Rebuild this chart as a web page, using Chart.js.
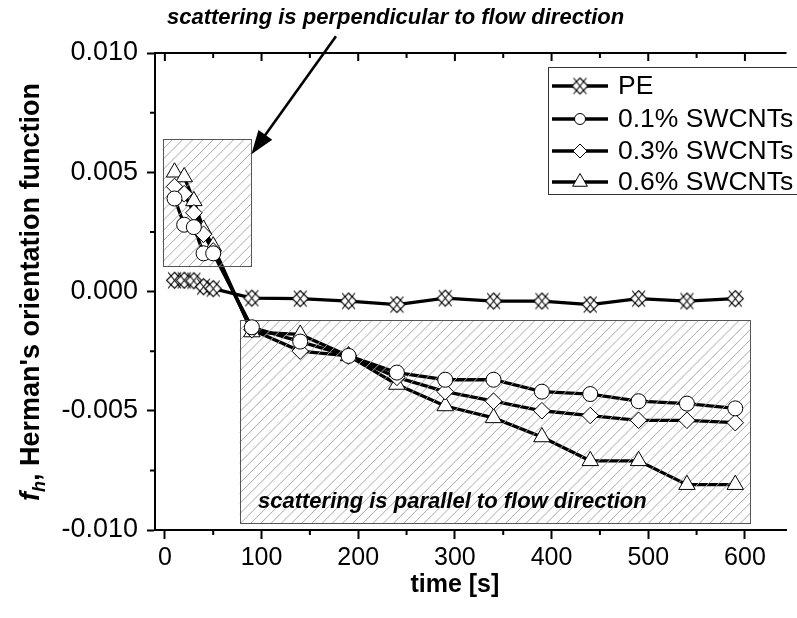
<!DOCTYPE html>
<html><head><meta charset="utf-8">
<script src="https://cdn.jsdelivr.net/npm/chart.js@4"></script>
<style>html,body{margin:0;padding:0;background:#fff;} canvas{display:block}</style>
</head><body>
<canvas id="c" width="797" height="618"></canvas>
<script>
// ---- data ----
const times = [10,20,30,40,50,90,140,190,240,290,340,390,440,490,540,590];
const seriesNames = ['PE','0.1% SWCNTs','0.3% SWCNTs','0.6% SWCNTs'];
const pe      = [0.00047,0.00047,0.00045,0.00020,0.00012,-0.00028,-0.00030,-0.00040,-0.00055,-0.00028,-0.00040,-0.00040,-0.00055,-0.00030,-0.00040,-0.00030];
const swcnt01 = [0.0039,0.0028,0.0027,0.0016,0.0016,-0.0015,-0.0021,-0.0027,-0.0034,-0.0037,-0.0037,-0.0042,-0.0043,-0.0046,-0.0047,-0.0049];
const swcnt03 = [0.0044,0.0041,0.0033,0.0024,0.0017,-0.0016,-0.0025,-0.0027,-0.0036,-0.0042,-0.0046,-0.0050,-0.0052,-0.0054,-0.0054,-0.0055];
const swcnt06 = [0.0050,0.0048,0.0038,0.0026,0.0019,-0.0017,-0.0018,-0.0027,-0.0039,-0.0048,-0.0053,-0.0061,-0.0071,-0.0071,-0.0081,-0.0081];
const xTickValues = [0,100,200,300,400,500,600];
const xMinorTicks = [50,150,250,350,450,550];
const yTickValues = [-0.010,-0.005,0.000,0.005,0.010];
const yMinorTicks = [-0.0075,-0.0025,0.0025,0.0075];
const xTitle = 'time [s]';
const yTitleParts = ['f','h',", Herman's orientation function"];
const noteTop = 'scattering is perpendicular to flow direction';
const noteBox = 'scattering is parallel to flow direction';

const FONT = '"Liberation Sans", Arial, sans-serif';

function peMarker(r){
  const c = document.createElement('canvas');
  c.width = c.height = 2*r+3;
  const g = c.getContext('2d'); const m = c.width/2;
  g.lineWidth = 1.1; g.strokeStyle = '#000'; g.fillStyle = '#fff';
  g.beginPath(); g.moveTo(m,m-r); g.lineTo(m+r,m); g.lineTo(m,m+r); g.lineTo(m-r,m); g.closePath();
  g.fill(); g.stroke();
  g.beginPath(); g.moveTo(m-r*0.8,m-r); g.lineTo(m+r*0.8,m+r); g.moveTo(m+r*0.8,m-r); g.lineTo(m-r*0.8,m+r); g.stroke();
  return c;
}
const peBig = peMarker(8), peSmall = peMarker(8);

const allValues = [pe, swcnt01, swcnt03, swcnt06];
const styles = [
  {pointStyle: peBig, radius: 8, legendStyle: peSmall, legendRadius: 8},
  {pointStyle: 'circle', radius: 7.5, legendStyle: 'circle', legendRadius: 5.5},
  {pointStyle: 'rectRot', radius: 8.3, legendStyle: 'rectRot', legendRadius: 7},
  {pointStyle: 'triangle', radius: 9.5, legendStyle: 'triangle', legendRadius: 8.5}
];
const pts = v => times.map((t,i)=>({x:t, y:v[i]}));

const datasets = [];
allValues.forEach((v,i)=>{
  datasets.push({label: seriesNames[i], data: pts(v), showLine: true, borderColor:'#000', borderWidth: 3.3,
    pointRadius: 0, pointHoverRadius: 0, order: 2, tension: 0});
});
allValues.forEach((v,i)=>{
  datasets.push({label: seriesNames[i]+' markers', data: pts(v), showLine: false,
    pointStyle: styles[i].pointStyle, pointRadius: styles[i].radius, pointHoverRadius: styles[i].radius,
    pointBackgroundColor:'#fff', pointBorderColor:'#000', pointBorderWidth: 1, order: 1});
});

const boxes = [
  {x0:-2.3, x1:88.8, y0:0.00107, y1:0.00638},
  {x0:77.3, x1:605.3, y0:-0.00972, y1:-0.00120}
];

function boxRect(chart,b){
  const xs = chart.scales.x, ys = chart.scales.y;
  const l = xs.getPixelForValue(b.x0), r = xs.getPixelForValue(b.x1);
  const t = ys.getPixelForValue(b.y1), bt = ys.getPixelForValue(b.y0);
  return {l, r, t, b: bt};
}

let hatched = false;
const deco = {
  id: 'deco',
  beforeDatasetsDraw(chart){
    hatched = false;
    const ctx = chart.ctx;
    ctx.save();
    boxes.forEach(b=>{ const r = boxRect(chart,b); ctx.fillStyle='#fff'; ctx.fillRect(r.l,r.t,r.r-r.l,r.b-r.t); });
    ctx.restore();
  },
  beforeDatasetDraw(chart,args){
    if (hatched || args.index < 4) return;
    hatched = true;
    const ctx = chart.ctx;
    boxes.forEach(b=>{
      const r = boxRect(chart,b);
      ctx.save();
      ctx.beginPath(); ctx.rect(r.l,r.t,r.r-r.l,r.b-r.t); ctx.clip();
      ctx.strokeStyle = '#a8a8a8'; ctx.lineWidth = 1;
      const h = r.b - r.t;
      ctx.beginPath();
      for (let x = r.l - h; x < r.r + 10; x += 10.2){
        ctx.moveTo(x, r.b); ctx.lineTo(x + h, r.t);
      }
      ctx.stroke();
      ctx.restore();
      ctx.save();
      ctx.strokeStyle = '#555'; ctx.lineWidth = 1;
      ctx.strokeRect(Math.round(r.l)+0.5, Math.round(r.t)+0.5, Math.round(r.r-r.l), Math.round(r.b-r.t));
      ctx.restore();
    });
  },
  afterDraw(chart){
    const ctx = chart.ctx, xs = chart.scales.x, ys = chart.scales.y, a = chart.chartArea;
    ctx.save();
    ctx.strokeStyle = '#000'; ctx.lineWidth = 2;
    // top axis
    ctx.beginPath(); ctx.moveTo(a.left-1, a.top); ctx.lineTo(a.right, a.top); ctx.stroke();
    ctx.beginPath();
    xTickValues.forEach(v=>{ const p = xs.getPixelForValue(v); ctx.moveTo(p,a.top); ctx.lineTo(p,a.top+8); });
    xMinorTicks.forEach(v=>{ const p = xs.getPixelForValue(v); ctx.moveTo(p,a.top); ctx.lineTo(p,a.top+5); });
    // bottom minor ticks
    xMinorTicks.forEach(v=>{ const p = xs.getPixelForValue(v); ctx.moveTo(p,a.bottom); ctx.lineTo(p,a.bottom+5); });
    // left minor ticks
    yMinorTicks.forEach(v=>{ const p = ys.getPixelForValue(v); ctx.moveTo(a.left,p); ctx.lineTo(a.left-5,p); });
    ctx.stroke();

    // arrow
    const sx = xs.getPixelForValue(177), sy = ys.getPixelForValue(0.0107);
    const tx = xs.getPixelForValue(89.5), ty = ys.getPixelForValue(0.00575);
    const dx = tx - sx, dy = ty - sy, L = Math.hypot(dx,dy), ux = dx/L, uy = dy/L;
    const hl = 24, hw = 8.5;
    ctx.lineWidth = 2.6;
    ctx.beginPath(); ctx.moveTo(sx,sy); ctx.lineTo(tx-ux*hl*0.8, ty-uy*hl*0.8); ctx.stroke();
    ctx.fillStyle = '#000';
    ctx.beginPath(); ctx.moveTo(tx,ty);
    ctx.lineTo(tx-ux*hl - uy*hw, ty-uy*hl + ux*hw);
    ctx.lineTo(tx-ux*hl + uy*hw, ty-uy*hl - ux*hw);
    ctx.closePath(); ctx.fill();

    // notes
    ctx.fillStyle = '#000';
    ctx.font = 'italic bold 22px ' + FONT;
    ctx.textBaseline = 'middle'; ctx.textAlign = 'left';
    ctx.fillText(noteTop, 167, 18);
    ctx.fillText(noteBox, 258, 502);

    // legend
    const lx = 548, ly = 67, lw = 270, lh = 127;
    ctx.fillStyle = '#fff'; ctx.fillRect(lx, ly, lw, lh);
    ctx.strokeStyle = '#333'; ctx.lineWidth = 1;
    ctx.strokeRect(lx+0.5, ly+0.5, lw, lh);
    const rows = [86, 119, 151, 182];
    rows.forEach((ry,i)=>{
      ctx.strokeStyle = '#000'; ctx.lineWidth = 3.3;
      ctx.beginPath(); ctx.moveTo(552, ry); ctx.lineTo(608, ry); ctx.stroke();
      ctx.fillStyle = '#fff'; ctx.strokeStyle = '#000'; ctx.lineWidth = 1;
      Chart.helpers.drawPoint(ctx, {pointStyle: styles[i].legendStyle, radius: styles[i].legendRadius, rotation: 0, borderWidth: 1}, 580, ry);
      ctx.fillStyle = '#000';
      ctx.font = '26.5px ' + FONT; ctx.textAlign = 'left'; ctx.textBaseline = 'middle';
      ctx.fillText(seriesNames[i], 618, ry+1);
    });

    // axis titles
    ctx.fillStyle = '#000';
    ctx.font = 'bold 25px ' + FONT; ctx.textAlign = 'center'; ctx.textBaseline = 'middle';
    ctx.fillText(xTitle, xs.getPixelForValue(300), 585);

    ctx.save();
    ctx.translate(30, 292); ctx.rotate(-Math.PI/2);
    const fMain = 'italic bold 27px ' + FONT, fSub = 'italic bold 18px ' + FONT, fRest = 'bold 27px ' + FONT;
    ctx.font = fMain; const w1 = ctx.measureText(yTitleParts[0]).width;
    ctx.font = fSub; const w2 = ctx.measureText(yTitleParts[1]).width;
    ctx.font = fRest; const w3 = ctx.measureText(yTitleParts[2]).width;
    let x0 = -(w1+w2+w3)/2;
    ctx.textAlign = 'left'; ctx.textBaseline = 'alphabetic';
    ctx.font = fMain; ctx.fillText(yTitleParts[0], x0, 9); x0 += w1;
    ctx.font = fSub; ctx.fillText(yTitleParts[1], x0, 15); x0 += w2;
    ctx.font = fRest; ctx.fillText(yTitleParts[2], x0, 9);
    ctx.restore();
    ctx.restore();
  }
};

new Chart(document.getElementById('c'), {
  type: 'scatter',
  data: { datasets },
  options: {
    responsive: false, animation: false, devicePixelRatio: 1,
    layout: { padding: { top: 53, right: 0, left: 0, bottom: 0 } },
    plugins: { legend: { display: false }, tooltip: { enabled: false } },
    scales: {
      x: {
        type: 'linear', position: 'bottom', min: -10.2, max: 643,
        afterBuildTicks: s => { s.ticks = xTickValues.map(v=>({value:v})); },
        afterFit: s => { s.height = 88; },
        ticks: { color:'#000', font:{family: FONT, size: 25}, padding: 4, callback: v => String(v), maxRotation: 0, autoSkip: false },
        grid: { drawOnChartArea: false, drawTicks: true, tickLength: 9, tickWidth: 2, tickColor: '#000' },
        border: { display: true, color: '#000', width: 2 }
      },
      y: {
        type: 'linear', position: 'left', min: -0.01, max: 0.01,
        afterBuildTicks: s => { s.ticks = yTickValues.map(v=>({value:v})); },
        afterFit: s => { s.width = 155; },
        ticks: { color:'#000', font:{family: FONT, size: 27}, padding: 9, callback: v => v.toFixed(3), autoSkip: false },
        grid: { drawOnChartArea: false, drawTicks: true, tickLength: 8, tickWidth: 2, tickColor: '#000' },
        border: { display: true, color: '#000', width: 2 }
      }
    }
  },
  plugins: [deco]
});
</script>
</body></html>
